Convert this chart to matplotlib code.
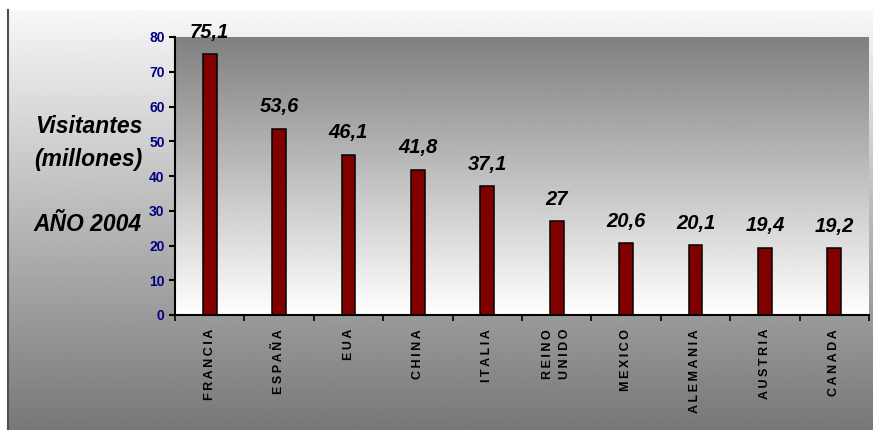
import numpy as np
import matplotlib
matplotlib.use('Agg')
import matplotlib.pyplot as plt
from matplotlib.lines import Line2D

# data
paises = ['FRANCIA', 'ESPAÑA', 'EUA', 'CHINA', 'ITALIA', 'REINO\nUNIDO',
          'MEXICO', 'ALEMANIA', 'AUSTRIA', 'CANADA']
visitantes = [75.1, 53.6, 46.1, 41.8, 37.1, 27, 20.6, 20.1, 19.4, 19.2]
yticks = [0, 10, 20, 30, 40, 50, 60, 70, 80]

plt.rcParams['font.family'] = ['Liberation Sans', 'DejaVu Sans']

W, H = 873, 430
fig = plt.figure(figsize=(W / 100, H / 100), dpi=100)
fig.patch.set_facecolor('white')

# outer chart area: light at top, grey at bottom
bg = fig.add_axes([8 / W, 0, 1 - 8 / W, 420 / H])
bg.imshow(np.linspace(0.97, 0.47, 256).reshape(-1, 1), cmap='gray', vmin=0, vmax=1,
          aspect='auto', extent=[0, 1, 0, 1])
bg.axis('off')
fig.add_artist(Line2D([8 / W, 8 / W], [0, 420 / H], color='#505050', lw=1.5))

# plot area
ax = fig.add_axes([175 / W, (H - 315) / H, 694 / W, 278 / H])
ax.set_facecolor('none')
n = len(paises)
ax.imshow(np.linspace(0.5, 1.0, 256).reshape(-1, 1), cmap='gray', vmin=0, vmax=1,
          aspect='auto', extent=[-0.5, n - 0.5, 0, 80], zorder=0)

x = np.arange(n)
ax.bar(x, visitantes, width=0.2, color='#800000', edgecolor='black', linewidth=1.1, zorder=2)

for xi, v in zip(x, visitantes):
    ax.annotate('{:g}'.format(v).replace('.', ','), xy=(xi, v), xytext=(0, 9),
                textcoords='offset points', ha='center', va='bottom',
                fontsize=14.5, fontweight='bold', fontstyle='italic', color='black')

ax.set_xlim(-0.5, n - 0.5)
ax.set_ylim(0, 80)
for s in ['top', 'right']:
    ax.spines[s].set_visible(False)
for s in ['left', 'bottom']:
    ax.spines[s].set_linewidth(1.5)

ax.set_yticks(yticks)
ax.set_yticklabels([str(t) for t in yticks], fontsize=10, fontweight='bold', color='#000080')
ax.tick_params(axis='y', direction='out', length=4, width=1.5, pad=3.5)

ax.set_xticks(np.arange(n + 1) - 0.5)
ax.set_xticklabels([])
ax.tick_params(axis='x', which='major', direction='out', length=4, width=1.2)
ax.set_xticks(x, minor=True)
# the letters in the original are spread out: thin spaces between them
ax.set_xticklabels(['\n'.join('\u2009'.join(w) for w in p.split('\n')) for p in paises],
                   minor=True, rotation=90, fontsize=9, fontweight='bold',
                   ha='center', va='top', multialignment='right', linespacing=1.6)
ax.tick_params(axis='x', which='minor', length=0, pad=10)

# side caption
cap = dict(ha='center', va='baseline', fontsize=16.5, fontweight='bold', fontstyle='italic',
           color='black')
fig.text(89 / W, 1 - 133 / H, 'Visitantes', **cap)
fig.text(88 / W, 1 - 166 / H, '(millones)', **cap)
fig.text(88 / W, 1 - 231 / H, 'AÑO 2004', **cap)

fig.savefig('out.png', dpi=100)
